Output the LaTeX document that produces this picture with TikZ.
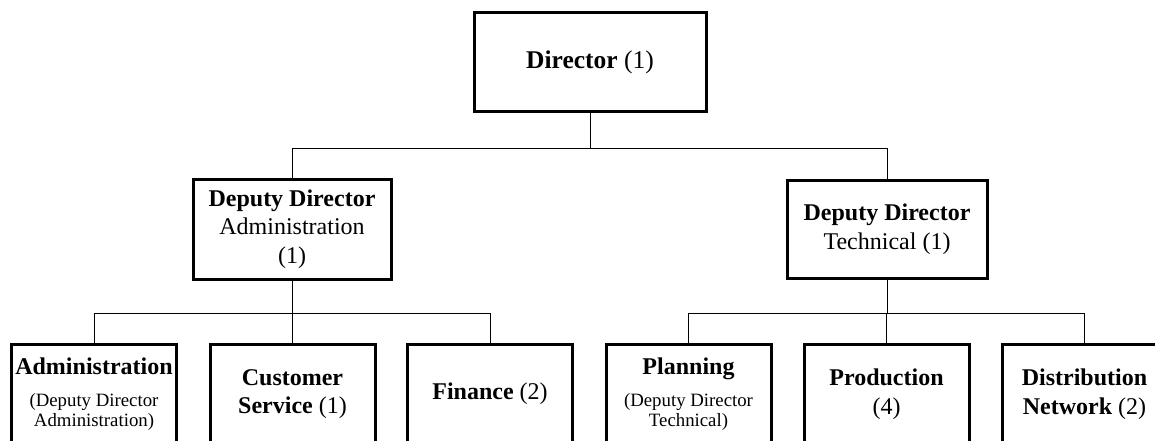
\documentclass[tikz,border=0pt]{standalone}
\usepackage{fontspec}
\setmainfont{Liberation Serif}
\newcommand\smf{\fontsize{18.8}{20}\selectfont}
\begin{document}
\begin{tikzpicture}[x=1pt,y=-1pt,
  box/.style={draw, line width=3pt, align=center, inner sep=0pt,
    font=\fontsize{24}{28.5}\selectfont},
  leaf/.style={box, minimum width=165pt, minimum height=100pt},
  conn/.style={line width=0.8pt}]
\clip (0,0) rectangle (1155,441);
\fill[white] (0,0) rectangle (1155,441);
% top levels
\node[box, minimum width=232pt, minimum height=99pt, font=\fontsize{25.5}{30}\selectfont] (dir) at (590,62.5) {\textbf{Director} (1)};
\node[box, minimum width=198pt, minimum height=100pt] (dadm) at (292,229) {\textbf{Deputy Director}\\Administration\\(1)};
\node[box, minimum width=200pt, minimum height=98pt] (dtech) at (887,229) {\textbf{Deputy Director}\\Technical (1)};
% bottom level
\node[leaf] (b1) at (94,394) {\textbf{Administration}\\[3pt]\smf (Deputy Director\\[-8.5pt]\smf Administration)};
\node[leaf] (b2) at (292.5,394) {\textbf{Customer}\\\textbf{Service} (1)};
\node[leaf] (b3) at (490,394) {\textbf{Finance} (2)};
\node[leaf] (b4) at (688.5,394) {\textbf{Planning}\\[3pt]\smf (Deputy Director\\[-8.5pt]\smf Technical)};
\node[leaf] (b5) at (886.5,394) {\textbf{Production}\\(4)};
\node[leaf] (b6) at (1084.5,394) {\textbf{Distribution}\\\textbf{Network} (2)};
% connectors
\draw[conn] (dir.south) -- ++(0,35) coordinate (bus0);
\draw[conn] (dadm.north) |- (bus0) -| (dtech.north);
\draw[conn] (dadm.south) -- ++(0,33) coordinate (busA);
\draw[conn] (b1.north) |- (busA) -| (b3.north);
\draw[conn] (b2.north) -- (b2.north |- busA);
\draw[conn] (dtech.south) -- ++(0,34) coordinate (busT);
\draw[conn] (b4.north) |- (busT) -| (b6.north);
\draw[conn] (b5.north) -- (b5.north |- busT);
\end{tikzpicture}
\end{document}
